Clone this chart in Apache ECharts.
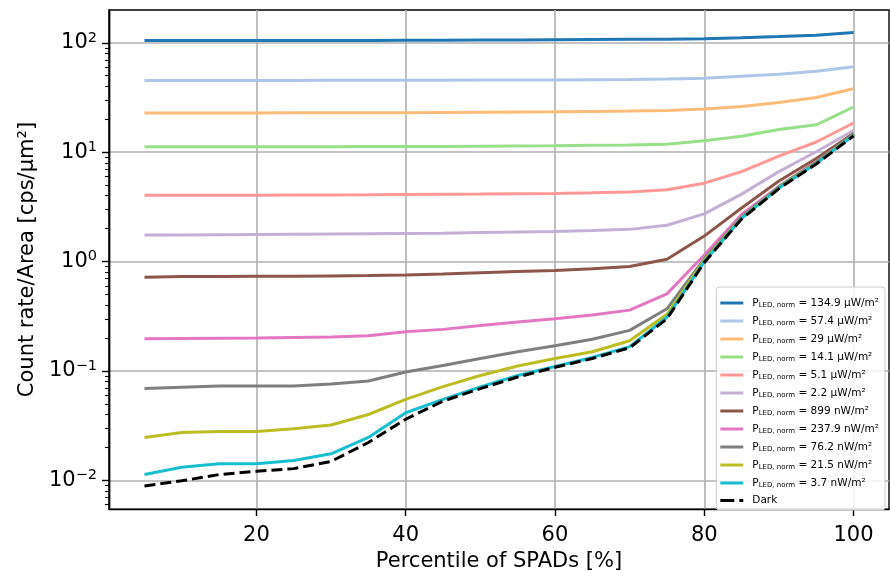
<!DOCTYPE html>
<html><head><meta charset="utf-8">
<script src="https://cdn.jsdelivr.net/npm/echarts@6/dist/echarts.min.js"></script>
<style>html,body{margin:0;padding:0;background:#fff}#c{width:890px;height:577px}</style>
</head><body><div id="c"></div><script>
const percentiles = [5,10,15,20,25,30,35,40,45,50,55,60,65,70,75,80,85,90,95,100];
const xTicks = [20,40,60,80,100];
const yMajorTicks = [0.01,0.1,1,10,100];
const yMinorTicks = [0.006,0.007,0.008,0.009,0.02,0.03,0.04,0.05,0.06,0.07,0.08,0.09,
  0.2,0.3,0.4,0.5,0.6,0.7,0.8,0.9,2,3,4,5,6,7,8,9,20,30,40,50,60,70,80,90];
const seriesNames = ['134.9 μW/m²','57.4 μW/m²','29 μW/m²','14.1 μW/m²','5.1 μW/m²','2.2 μW/m²',
  '899 nW/m²','237.9 nW/m²','76.2 nW/m²','21.5 nW/m²','3.7 nW/m²','Dark'];
const colors = ['#1f77b4','#aec7e8','#ffbb78','#98df8a','#ff9896','#c5b0d5','#8c564b','#e377c2','#7f7f7f','#bcbd22','#17becf','#000000'];
const p134_9 = [105,105,105,105,105,105,105,105.5,105.5,106,106,106.5,107,107.5,108,108.7,111,114,117.5,124];
const p57_4 = [45.3,45.3,45.3,45.3,45.3,45.4,45.4,45.5,45.5,45.6,45.7,45.8,46,46.2,46.6,47.5,49.5,51.5,55,60.5];
const p29 = [22.8,22.8,22.8,22.8,22.9,22.9,23,23,23.1,23.2,23.3,23.4,23.6,23.8,24.1,24.8,26.2,28.5,31.6,38];
const p14_1 = [11.2,11.2,11.2,11.2,11.2,11.2,11.25,11.3,11.3,11.35,11.4,11.45,11.55,11.65,11.8,12.7,14.0,16.1,17.8,25.9];
const p5_1 = [4.04,4.04,4.04,4.05,4.06,4.07,4.08,4.1,4.12,4.14,4.17,4.2,4.25,4.32,4.53,5.21,6.64,9.2,12.4,18.5];
const p2_2 = [1.75,1.75,1.76,1.77,1.78,1.79,1.8,1.81,1.82,1.84,1.86,1.88,1.92,1.97,2.15,2.73,4.14,6.64,10.1,15.8];
const p899n = [0.72,0.73,0.73,0.735,0.735,0.74,0.745,0.755,0.77,0.79,0.81,0.83,0.86,0.9,1.05,1.71,3.09,5.46,8.77,14.8];
const p237_9n = [0.197,0.198,0.199,0.2,0.202,0.204,0.21,0.228,0.24,0.26,0.28,0.30,0.325,0.36,0.507,1.15,2.69,4.86,8.2,14.3];
const p76_2n = [0.069,0.071,0.073,0.073,0.073,0.076,0.081,0.098,0.112,0.13,0.15,0.17,0.195,0.235,0.37,1.06,2.55,4.85,8.1,14.6];
const p21_5n = [0.0247,0.0274,0.028,0.028,0.0297,0.0321,0.040,0.055,0.072,0.091,0.111,0.13,0.15,0.189,0.33,1.03,2.5,4.75,7.95,14.4];
const p3_7n = [0.0113,0.0132,0.0142,0.0142,0.0152,0.0175,0.0247,0.0415,0.055,0.0713,0.091,0.11,0.133,0.167,0.31,1.0,2.48,4.7,7.9,14.3];
const dark = [0.0089,0.0099,0.0113,0.0121,0.0128,0.0149,0.0222,0.0362,0.053,0.069,0.088,0.108,0.13,0.163,0.30,0.98,2.45,4.65,7.8,14.1];
const allValues = [p134_9,p57_4,p29,p14_1,p5_1,p2_2,p899n,p237_9n,p76_2n,p21_5n,p3_7n,dark];

const FONT = 'DejaVu Sans';
const chart = echarts.init(document.getElementById('c'), null, {renderer:'canvas'});
const series = allValues.map((vals, i) => ({
  name: seriesNames[i],
  type: 'line',
  xAxisIndex: 0, yAxisIndex: 0,
  data: percentiles.map((x, j) => [x, vals[j]]),
  symbol: 'none',
  showSymbol: false,
  animation: false,
  lineStyle: {width: 3, color: colors[i], type: seriesNames[i] === 'Dark' ? [11,5] : 'solid', cap: 'butt'},
  itemStyle: {color: colors[i]},
  emphasis: {disabled: true}
}));

function supLabel(v) {
  const l = Math.log10(v);
  const e = Math.round(l);
  if (Math.abs(l - e) > 1e-6) return '';
  return '{b|10}{e|' + (e < 0 ? '\u2212' + (-e) : e) + '}';
}

const legendData = seriesNames.map((n) => ({
  name: n,
  icon: n === 'Dark' ? 'path://M0 0H14V3H0Z M19 0H23V3H19Z' : 'rect'
}));

chart.setOption({
  backgroundColor: '#ffffff',
  animation: false,
  grid: {left: 109, top: 10, width: 780, height: 504, show: true, borderColor: '#000', borderWidth: 1.4, backgroundColor: 'transparent'},
  legend: {
    orient: 'vertical', right: 5, bottom: 67,
    itemWidth: 23, itemHeight: 3, itemGap: 6,
    padding: [10, 6, 4, 4],
    backgroundColor: 'rgba(255,255,255,0.85)', borderColor: '#cccccc', borderWidth: 1, borderRadius: 3,
    data: legendData,
    formatter: function(name) {
      if (name === 'Dark') return '{d|Dark}';
      return '{p0|P}{s|LED, norm}{p| = ' + name + '}';
    },
    textStyle: {
      fontFamily: FONT, fontSize: 10.5, color: '#000',
      rich: {
        p0: {fontFamily: FONT, fontSize: 10.5, color: '#000', lineHeight: 14, padding: [0,0,0,4]},
        p: {fontFamily: FONT, fontSize: 10.5, color: '#000', lineHeight: 14},
        s: {fontFamily: FONT, fontSize: 7, color: '#000', lineHeight: 14, padding: [5,0,0,0]},
        d: {fontFamily: FONT, fontSize: 10.5, color: '#000', lineHeight: 14, padding: [0,0,0,4]}
      }
    }
  },
  xAxis: {
    type: 'value', min: 0.25, max: 104.75,
    name: 'Percentile of SPADs [%]', nameLocation: 'middle', nameGap: 39,
    nameTextStyle: {fontFamily: FONT, fontSize: 21, color: '#000'},
    axisLine: {show: true, onZero: false, lineStyle: {color: '#000', width: 1.4}},
    axisTick: {show: true, inside: false, length: 7, lineStyle: {color: '#000', width: 1.4}, customValues: xTicks},
    axisLabel: {fontFamily: FONT, fontSize: 21, color: '#000', margin: 16, customValues: xTicks, showMinLabel: true, showMaxLabel: true, hideOverlap: false},
    splitLine: {show: true, lineStyle: {color: '#b0b0b0', width: 1.6}}
  },
  yAxis: [{
    type: 'log', logBase: 10, min: 0.00546, max: 199.5,
    name: 'Count rate/Area [cps/μm²]', nameLocation: 'middle', nameGap: 71, nameRotate: 90,
    nameTextStyle: {fontFamily: FONT, fontSize: 21, color: '#000'},
    axisLine: {show: true, lineStyle: {color: '#000', width: 1.4}},
    axisTick: {show: true, length: 7, lineStyle: {color: '#000', width: 1.4}, customValues: yMajorTicks},
    axisLabel: {
      fontFamily: FONT, fontSize: 21, color: '#000', margin: 12,
      customValues: yMajorTicks,
      formatter: supLabel,
      rich: {
        b: {fontFamily: FONT, fontSize: 21, color: '#000'},
        e: {fontFamily: FONT, fontSize: 14.5, color: '#000', padding: [0,0,10,0]}
      }
    },
    splitLine: {show: true, lineStyle: {color: '#b0b0b0', width: 1.6}}
  }, {
    type: 'log', logBase: 10, min: 0.00546, max: 199.5, position: 'left',
    axisLine: {show: true, lineStyle: {color: '#000', width: 1.4}},
    axisTick: {show: true, length: 4, lineStyle: {color: '#000', width: 1.1}, customValues: yMinorTicks},
    axisLabel: {show: false},
    splitLine: {show: false}
  }],
  series: series
});
</script></body></html>
